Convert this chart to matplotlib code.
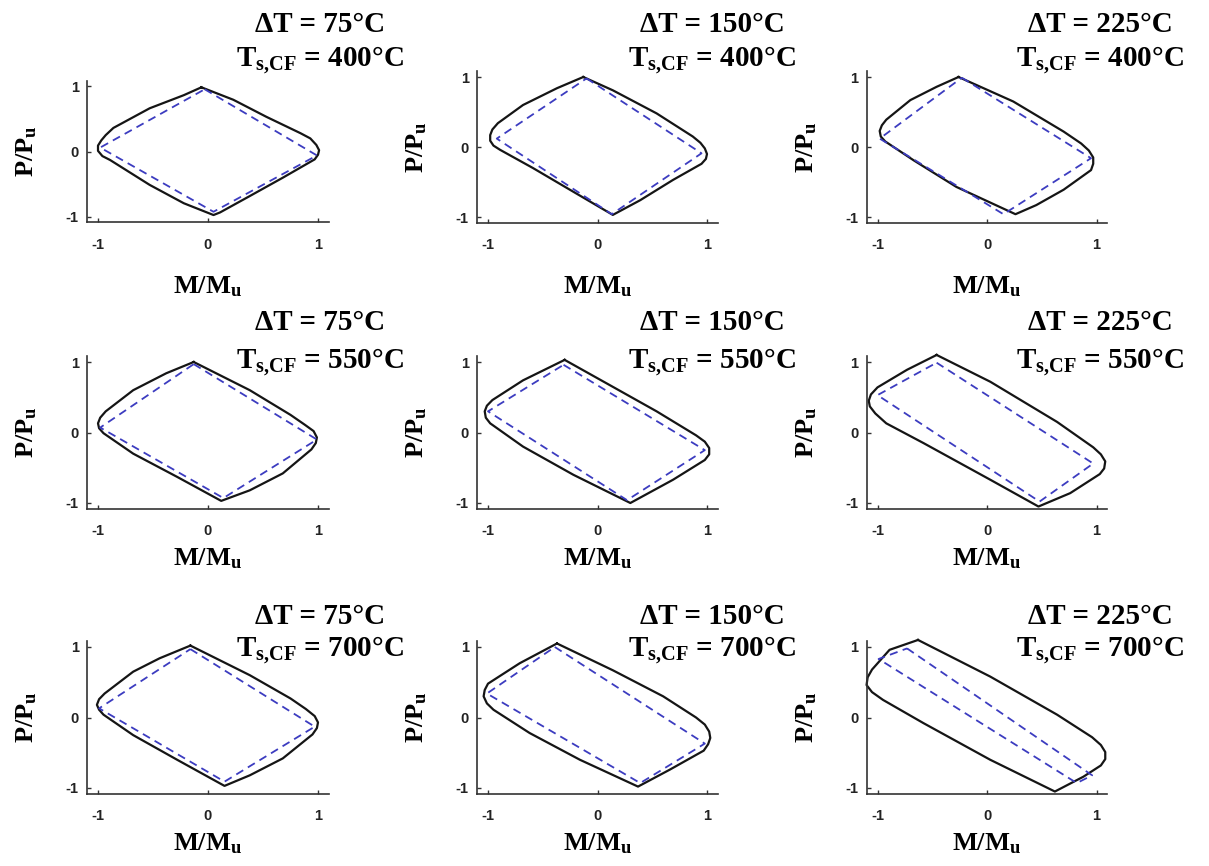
import matplotlib
matplotlib.use("Agg")
import matplotlib.pyplot as plt

W, H = 1209, 866

# panel labels
delta_t = ["75", "150", "225"]
t_scf = ["400", "550", "700"]

# (M/Mu, P/Pu); solid = full curve, dash = simplified
solid_75_400 = [(-0.06, 0.98), (0.23, 0.79), (0.53, 0.53), (0.84, 0.28),
                (0.93, 0.20), (0.985, 0.10), (1.01, 0.02), (1.00, -0.05),
                (0.97, -0.12), (0.68, -0.40), (0.38, -0.68), (0.11, -0.93),
                (0.05, -0.97), (-0.22, -0.79), (-0.53, -0.51), (-0.89, -0.13),
                (-0.96, -0.07), (-1.00, 0.01), (-1.00, 0.09), (-0.97, 0.17),
                (-0.93, 0.25), (-0.86, 0.36), (-0.53, 0.66), (-0.22, 0.86)]
dash_75_400 = [(-0.03, 0.95), (0.99, -0.06), (0.05, -0.92), (-0.98, 0.06)]

solid_150_400 = [(-0.13, 1.00), (0.14, 0.81), (0.54, 0.48), (0.87, 0.15),
                 (0.94, 0.06), (0.98, -0.02), (1.00, -0.10), (0.99, -0.17),
                 (0.95, -0.24), (0.69, -0.47), (0.39, -0.76), (0.14, -0.97),
                 (-0.22, -0.64), (-0.59, -0.30), (-0.89, -0.04), (-0.95, 0.02),
                 (-0.98, 0.09), (-0.98, 0.17), (-0.96, 0.25), (-0.91, 0.34),
                 (-0.68, 0.60), (-0.37, 0.84)]
dash_150_400 = [(-0.10, 0.98), (0.95, -0.09), (0.13, -0.96), (-0.92, 0.12)]

solid_225_400 = [(-0.26, 1.00), (0.24, 0.65), (0.70, 0.22), (0.86, 0.05),
                 (0.93, -0.05), (0.97, -0.15), (0.97, -0.24), (0.95, -0.33),
                 (0.70, -0.61), (0.45, -0.83), (0.26, -0.96), (-0.28, -0.57),
                 (-0.67, -0.19), (-0.93, 0.08), (-0.97, 0.15), (-0.98, 0.23),
                 (-0.96, 0.31), (-0.92, 0.39), (-0.70, 0.67), (-0.46, 0.86)]
dash_225_400 = [(-0.23, 0.99), (0.95, -0.16), (0.15, -0.96), (-0.98, 0.12)]

solid_75_550 = [(-0.13, 1.00), (0.38, 0.60), (0.75, 0.25), (0.88, 0.11),
                (0.96, 0.02), (0.99, -0.07), (0.98, -0.15), (0.94, -0.24),
                (0.68, -0.58), (0.38, -0.82), (0.12, -0.97), (-0.28, -0.63),
                (-0.68, -0.30), (-0.95, -0.01), (-0.99, 0.06), (-1.00, 0.13),
                (-0.98, 0.21), (-0.93, 0.30), (-0.68, 0.60), (-0.38, 0.84)]
dash_75_550 = [(-0.13, 0.97), (0.99, -0.10), (0.14, -0.93), (-0.98, 0.07)]

solid_150_550 = [(-0.30, 1.03), (0.08, 0.70), (0.54, 0.30), (0.90, -0.04),
                 (0.98, -0.13), (1.02, -0.22), (1.02, -0.31), (0.98, -0.39),
                 (0.69, -0.67), (0.30, -1.00), (-0.22, -0.60), (-0.68, -0.20),
                 (-0.98, 0.13), (-1.02, 0.21), (-1.03, 0.30), (-1.01, 0.38),
                 (-0.96, 0.46), (-0.68, 0.74)]
dash_150_550 = [(-0.31, 0.96), (0.98, -0.25), (0.27, -0.96), (-1.00, 0.30)]

solid_225_550 = [(-0.46, 1.10), (0.03, 0.72), (0.64, 0.15), (0.97, -0.21),
                 (1.04, -0.31), (1.08, -0.41), (1.07, -0.51), (1.03, -0.59),
                 (0.76, -0.86), (0.47, -1.05), (0.03, -0.67), (-0.58, -0.15),
                 (-0.92, 0.13), (-1.02, 0.27), (-1.07, 0.37), (-1.08, 0.45),
                 (-1.06, 0.54), (-1.00, 0.64), (-0.73, 0.89)]
dash_225_550 = [(-0.46, 0.99), (0.97, -0.44), (0.48, -0.98), (-1.00, 0.53)]

solid_75_700 = [(-0.16, 1.02), (0.38, 0.60), (0.75, 0.27), (0.89, 0.12),
                (0.97, 0.02), (1.00, -0.07), (0.99, -0.15), (0.95, -0.24),
                (0.68, -0.58), (0.38, -0.82), (0.15, -0.97), (-0.28, -0.60),
                (-0.68, -0.25), (-0.95, 0.04), (-0.99, 0.11), (-1.01, 0.18),
                (-0.99, 0.26), (-0.94, 0.34), (-0.68, 0.65), (-0.44, 0.84)]
dash_75_700 = [(-0.16, 0.97), (0.97, -0.13), (0.15, -0.91), (-0.99, 0.13)]

solid_150_700 = [(-0.37, 1.05), (0.14, 0.67), (0.60, 0.30), (0.90, 0.00),
                 (0.98, -0.10), (1.02, -0.20), (1.03, -0.29), (1.01, -0.38),
                 (0.97, -0.47), (0.66, -0.74), (0.37, -0.98), (-0.16, -0.60),
                 (-0.62, -0.22), (-0.95, 0.11), (-1.01, 0.20), (-1.04, 0.30),
                 (-1.03, 0.39), (-1.00, 0.48), (-0.71, 0.77)]
dash_150_700 = [(-0.39, 1.00), (0.98, -0.37), (0.39, -0.93), (-1.01, 0.34)]

solid_225_700 = [(-0.63, 1.10), (0.03, 0.58), (0.64, 0.04), (0.96, -0.28),
                 (1.04, -0.39), (1.08, -0.49), (1.08, -0.59), (1.04, -0.68),
                 (0.88, -0.84), (0.62, -1.05), (0.03, -0.60), (-0.58, -0.08),
                 (-0.95, 0.25), (-1.05, 0.36), (-1.10, 0.46), (-1.09, 0.57),
                 (-1.05, 0.68), (-0.89, 0.96)]
dash_225_700 = [(-0.73, 0.98), (0.96, -0.82), (0.82, -0.93), (-0.99, 0.83)]

panels = [[(solid_75_400, dash_75_400), (solid_150_400, dash_150_400),
           (solid_225_400, dash_225_400)],
          [(solid_75_550, dash_75_550), (solid_150_550, dash_150_550),
           (solid_225_550, dash_225_550)],
          [(solid_75_700, dash_75_700), (solid_150_700, dash_150_700),
           (solid_225_700, dash_225_700)]]

# layout in pixels: position of value 0 and pixels per unit
col_x0 = [208, 597.5, 987]
col_ux = [110, 109.5, 109.5]
row_y0 = [147, 432.5, 717.5]
row_uy = [70, 70.5, 70.5]
xlabel_gap = [52, 38, 38]
title_x = [320, 712, 1100]
title_y = [(25, 60), (322, 362), (617, 650)]
XL, YL = 1.1, 1.08

plt.rcParams['mathtext.fontset'] = 'custom'
plt.rcParams['mathtext.rm'] = 'Liberation Serif:bold'
plt.rcParams['mathtext.bf'] = 'Liberation Serif:bold'
plt.rcParams['mathtext.it'] = 'Liberation Serif:bold'

SERIF = dict(family='Liberation Serif', fontweight='bold')

fig = plt.figure(figsize=(W / 100, H / 100), dpi=100)

for r in range(3):
    for c in range(3):
        x0, ux = col_x0[c], col_ux[c]
        y0, uy = row_y0[r], row_uy[r]
        if (r, c) == (0, 0):
            y0, uy = 151.5, 65.5
        left = x0 - XL * ux
        top = y0 - YL * uy
        wpx, hpx = 2 * XL * ux, 2 * YL * uy
        ax = fig.add_axes([left / W, 1 - (top + hpx) / H, wpx / W, hpx / H])

        solid, dash = panels[r][c]
        sm = [p[0] for p in solid] + [solid[0][0]]
        sp = [p[1] for p in solid] + [solid[0][1]]
        dm = [p[0] for p in dash] + [dash[0][0]]
        dp = [p[1] for p in dash] + [dash[0][1]]
        ax.plot(sm, sp, color='#151515', lw=1.6, clip_on=False,
                solid_joinstyle='round')
        ax.plot(dm, dp, color='#3c3cc0', lw=1.3, ls=(0, (4.5, 3)),
                clip_on=False)

        ax.set_xlim(-XL, XL)
        ax.set_ylim(-YL, YL)
        ax.set_xticks([-1, 0, 1])
        ax.set_yticks([-1, 0, 1])
        ax.set_xticklabels(['-1', '0', '1'])
        ax.set_yticklabels(['-1', '0', '1'])
        ax.spines[['top', 'right']].set_visible(False)
        for s in ('left', 'bottom'):
            ax.spines[s].set_color('#333333')
            ax.spines[s].set_linewidth(1.2)
        ax.tick_params(direction='in', length=3, width=1, color='#333333',
                       labelsize=10.5, labelcolor='#222222')
        ax.tick_params(axis='x', pad=11)
        ax.tick_params(axis='y', pad=6)
        for lab in ax.get_xticklabels() + ax.get_yticklabels():
            lab.set_fontfamily('Liberation Sans')
            lab.set_fontweight('bold')

        ax.set_xlabel(r"M/M$_\mathregular{u}$", fontsize=19, **SERIF)
        ax.xaxis.set_label_coords(0.5, -xlabel_gap[r] / hpx)
        ax.set_ylabel(r"P/P$_\mathregular{u}$", fontsize=19, **SERIF)
        ax.yaxis.set_label_coords(-48 / wpx, 0.5)

        fig.text(title_x[c] / W, 1 - title_y[r][0] / H,
                 f"ΔT = {delta_t[c]}°C", ha='center', va='center',
                 fontsize=21, **SERIF)
        fig.text(title_x[c] / W, 1 - title_y[r][1] / H,
                 r"T$_\mathregular{s{,}CF}$" + f" = {t_scf[r]}°C",
                 ha='center', va='center', fontsize=21, **SERIF)

fig.savefig("out.png", dpi=100)
